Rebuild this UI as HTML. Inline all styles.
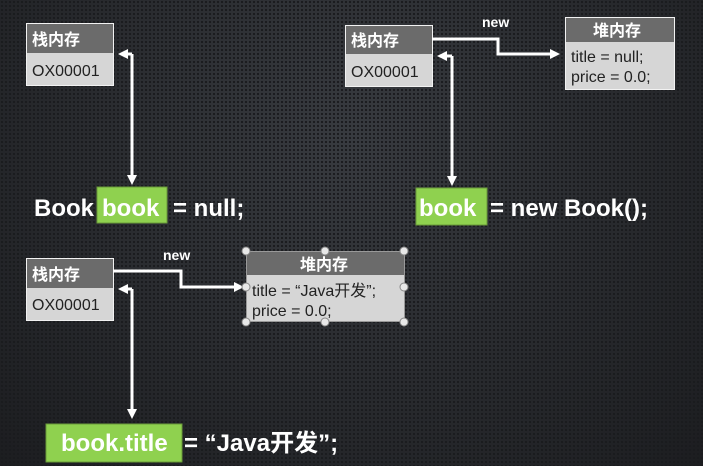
<!DOCTYPE html>
<html><head><meta charset="utf-8"><style>
html,body{margin:0;padding:0}
body{width:703px;height:466px;overflow:hidden;background:#2b2d31;
background-image:radial-gradient(circle,#1a1b1e 1px,transparent 1.3px),radial-gradient(ellipse at 50% 30%,#383b40,#1c1d20);
background-size:4px 4px,100% 100%;}
svg{position:absolute;left:0;top:0}
text{font-family:"Liberation Sans","Noto Sans CJK SC",sans-serif}
</style></head><body>
<svg width="703" height="466" viewBox="0 0 703 466">
<defs><marker id="a" markerWidth="10" markerHeight="10" refX="7" refY="5" orient="auto" markerUnits="userSpaceOnUse"><path d="M0,0 L10,5 L0,10 z" fill="#fff"/></marker></defs>
<g stroke="#f2f2f2" stroke-width="1">
<rect x="26.5" y="23.5" width="87" height="62" fill="#d6d6d6"/><rect x="27" y="24" width="86" height="29" fill="#6b6b6b" stroke="none"/>
<rect x="345.5" y="25.5" width="87" height="61" fill="#d6d6d6"/><rect x="346" y="26" width="86" height="28" fill="#6b6b6b" stroke="none"/>
<rect x="565.5" y="17.5" width="109" height="72" fill="#d6d6d6"/><rect x="566" y="18" width="108" height="24" fill="#6b6b6b" stroke="none"/>
<rect x="26.5" y="258.5" width="87" height="62" fill="#d6d6d6"/><rect x="27" y="259" width="86" height="29" fill="#6b6b6b" stroke="none"/>
<rect x="246.5" y="251.5" width="158" height="70" fill="#d6d6d6" stroke="#999"/><rect x="247" y="252" width="157" height="23" fill="#6b6b6b" stroke="none"/>
</g>
<g fill="#fff" font-weight="bold" font-size="16">
<text x="32" y="45">栈内存</text><text x="351" y="46">栈内存</text><text x="32" y="280">栈内存</text>
<text x="593" y="36">堆内存</text><text x="300" y="270">堆内存</text>
</g>
<g fill="#222" font-size="16">
<text x="32" y="76">OX00001</text><text x="351" y="77">OX00001</text><text x="32" y="310">OX00001</text>
<text x="571" y="62">title = null;</text><text x="571" y="82">price = 0.0;</text>
<text x="252" y="296">title = “Java开发”;</text><text x="252" y="316">price = 0.0;</text>
</g>
<g stroke="#fff" stroke-width="3" fill="none">
<polyline points="132,54 132,182" marker-end="url(#a)"/><line x1="132" y1="54" x2="121" y2="54" marker-end="url(#a)"/>
<polyline points="452,56 452,183" marker-end="url(#a)"/><line x1="452" y1="56" x2="440" y2="56" marker-end="url(#a)"/>
<polyline points="432,39 498,39 498,54 557,54" marker-end="url(#a)"/>
<polyline points="132,289 132,416" marker-end="url(#a)"/><line x1="132" y1="289" x2="121" y2="289" marker-end="url(#a)"/>
<polyline points="113,271 181,271 181,287 241,287" marker-end="url(#a)"/>
</g>
<g fill="#e8e8e8" stroke="#888" stroke-width="1">
<circle cx="246" cy="251" r="4"/><circle cx="325" cy="251" r="4"/><circle cx="404" cy="251" r="4"/>
<circle cx="246" cy="287" r="4"/><circle cx="404" cy="287" r="4"/>
<circle cx="246" cy="322" r="4"/><circle cx="325" cy="322" r="4"/><circle cx="404" cy="322" r="4"/>
</g>
<g fill="#fff" font-weight="bold" font-size="14"><text x="482" y="27">new</text><text x="163" y="260">new</text></g>
<rect x="97" y="187" width="70" height="36" fill="#8fd14f" stroke="#6a9a3a"/>
<rect x="416" y="188" width="71" height="37" fill="#8fd14f" stroke="#6a9a3a"/>
<rect x="46" y="424" width="136" height="38" fill="#8fd14f" stroke="#6a9a3a"/>
<g fill="#fff" font-weight="bold" font-size="24">
<text x="34" y="216">Book</text><text x="102" y="216">book</text><text x="173" y="216">= null;</text>
<text x="419" y="216">book</text><text x="490" y="216">= new Book();</text>
<text x="61" y="451">book.title</text><text x="184" y="451">= “Java开发”;</text>
</g>
</svg>
</body></html>
